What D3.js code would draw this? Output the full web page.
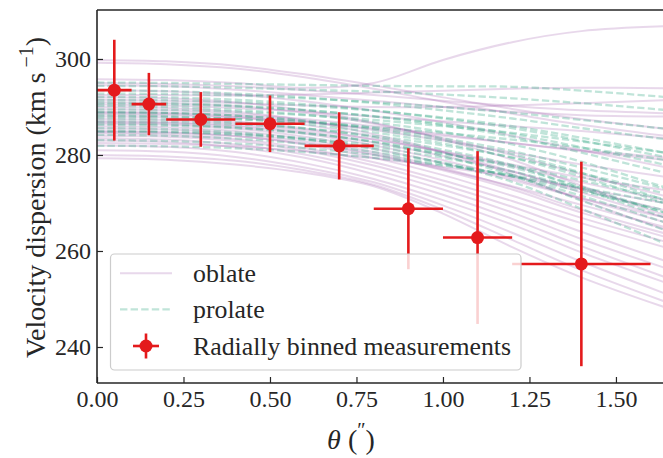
<!DOCTYPE html>
<html>
<head>
<meta charset="utf-8">
<script src="https://cdn.jsdelivr.net/npm/d3@7"></script>
<style>
  html, body { margin: 0; padding: 0; background: #fff; }
  svg { display: block; }
  text { font-family: "Liberation Serif", "DejaVu Serif", serif; fill: #262626; }
</style>
</head>
<body>
<svg id="chart" width="663" height="458"></svg>
<script>
// ---------------- data ----------------
const thetaSamples = [0, 0.2, 0.4, 0.6, 0.8, 1.0, 1.2, 1.4, 1.64];

const oblateModels = [
  [299.8, 299.5, 298.6, 296.8, 294.5, 292.0, 289.6, 287.5, 285.5],
  [299.2, 298.9, 298.0, 296.2, 293.8, 291.1, 288.6, 286.3, 284.0],
  [295.8, 295.6, 295.0, 294.0, 295.0, 299.8, 303.5, 305.8, 306.8],
  [294.5, 294.3, 293.6, 292.5, 291.3, 290.0, 289.0, 288.3, 288.0],
  [292.5, 292.5, 292.4, 292.6, 293.0, 293.4, 293.8, 294.0, 293.9],
  [291.5, 291.3, 290.8, 290.3, 290.0, 290.0, 290.3, 290.8, 291.4],
  [290.5, 290.3, 289.8, 289.0, 288.0, 287.0, 286.0, 285.0, 283.5],
  [289.5, 289.3, 288.6, 287.5, 286.0, 284.3, 282.5, 280.8, 279.0],
  [289.0, 288.8, 288.2, 287.0, 285.2, 283.0, 280.5, 278.0, 275.5],
  [288.0, 287.8, 287.0, 285.5, 283.3, 280.8, 278.0, 275.3, 272.7],
  [287.5, 287.3, 286.6, 285.2, 283.2, 280.6, 277.6, 274.3, 270.6],
  [287.0, 286.8, 286.2, 284.8, 282.6, 279.8, 276.5, 272.8, 268.5],
  [286.5, 286.3, 285.5, 283.8, 281.3, 278.3, 274.8, 271.0, 267.0],
  [286.0, 285.8, 285.0, 283.3, 280.6, 277.3, 273.3, 268.6, 263.7],
  [285.5, 285.3, 284.5, 282.8, 280.2, 276.8, 272.8, 268.0, 263.0],
  [285.0, 284.8, 284.0, 282.2, 279.4, 275.8, 271.5, 266.9, 262.0],
  [284.5, 284.2, 283.3, 281.4, 278.5, 274.7, 270.4, 265.8, 260.8],
  [284.0, 283.8, 282.9, 280.9, 277.8, 273.8, 269.2, 264.0, 258.0],
  [283.5, 283.2, 282.2, 280.1, 276.9, 272.8, 268.0, 262.5, 256.5],
  [283.0, 282.7, 281.6, 279.4, 276.0, 271.7, 266.7, 261.0, 254.6],
  [282.0, 281.7, 280.6, 278.3, 275.0, 270.6, 265.5, 259.7, 253.5],
  [281.0, 280.7, 279.6, 277.4, 274.3, 269.5, 263.8, 257.8, 251.2],
  [280.0, 279.7, 278.8, 276.8, 273.8, 268.6, 262.3, 256.0, 249.5],
  [279.3, 279.0, 278.0, 276.3, 273.5, 267.8, 260.8, 254.5, 248.3],
  [292.0, 291.8, 291.0, 289.3, 286.7, 283.2, 279.0, 273.6, 267.5],
  [290.0, 289.8, 289.0, 287.2, 284.3, 280.6, 276.0, 270.6, 264.5],
  [293.5, 293.3, 292.6, 291.2, 289.2, 286.8, 284.0, 281.0, 277.5],
  [288.5, 288.3, 287.8, 286.8, 285.5, 284.0, 282.5, 281.0, 279.5],
  [282.5, 282.3, 281.8, 280.8, 279.3, 277.5, 275.5, 273.0, 270.0],
  [295.0, 294.8, 294.3, 293.5, 292.5, 291.3, 290.2, 289.3, 288.7],
  [288.8, 288.6, 287.9, 286.3, 283.8, 280.5, 276.6, 272.2, 267.0],
  [286.8, 286.6, 285.9, 284.4, 282.0, 278.9, 275.2, 271.0, 266.0],
  [291.0, 290.8, 290.2, 288.8, 286.5, 283.5, 280.0, 276.0, 271.5],
  [284.8, 284.6, 283.9, 282.4, 280.0, 277.0, 273.5, 269.6, 265.0]
];

const prolateModels = [
  [295.1, 295.0, 294.8, 294.6, 294.4, 294.3, 294.2, 293.4, 292.1],
  [294.4, 294.3, 294.0, 293.6, 293.2, 292.6, 291.8, 290.8, 289.4],
  [293.5, 293.3, 292.8, 292.0, 290.8, 289.3, 287.6, 285.6, 283.3],
  [292.1, 292.0, 291.5, 290.6, 289.3, 287.6, 285.6, 283.0, 279.6],
  [291.0, 290.8, 290.3, 289.4, 288.0, 286.2, 283.8, 280.5, 276.3],
  [290.2, 290.0, 289.4, 288.4, 286.8, 284.8, 282.2, 278.6, 273.3],
  [289.0, 288.8, 288.2, 287.0, 285.3, 283.0, 280.2, 276.3, 270.6],
  [288.3, 288.1, 287.5, 286.4, 284.7, 282.4, 279.4, 275.5, 270.0],
  [287.6, 287.4, 286.8, 285.6, 283.7, 281.1, 277.9, 273.0, 267.0],
  [286.6, 286.4, 285.8, 284.6, 282.7, 279.8, 275.8, 270.5, 264.4],
  [285.6, 285.4, 284.7, 283.3, 281.2, 278.3, 274.4, 268.8, 261.6],
  [284.2, 284.0, 283.4, 282.3, 280.6, 278.4, 275.5, 271.5, 266.0],
  [283.1, 282.9, 282.4, 281.4, 280.0, 278.0, 275.6, 272.4, 268.5],
  [281.9, 281.8, 281.4, 280.6, 279.4, 277.8, 275.8, 273.2, 270.0],
  [289.5, 289.4, 289.0, 288.3, 287.3, 286.0, 284.6, 282.8, 280.5],
  [288.0, 287.9, 287.5, 286.8, 285.8, 284.6, 283.2, 281.5, 279.0],
  [292.8, 292.7, 292.4, 291.8, 291.0, 290.0, 288.8, 287.3, 285.5],
  [287.0, 286.9, 286.4, 285.5, 284.0, 282.0, 279.5, 276.2, 272.0],
  [285.0, 284.9, 284.4, 283.5, 282.1, 280.2, 277.8, 274.7, 270.8],
  [290.6, 290.5, 290.1, 289.3, 288.1, 286.5, 284.4, 281.6, 278.0],
  [288.8, 288.7, 288.2, 287.2, 285.6, 283.5, 280.8, 277.4, 273.0],
  [286.2, 286.1, 285.6, 284.5, 282.8, 280.4, 277.4, 273.4, 268.0],
  [291.5, 291.4, 291.0, 290.3, 289.2, 287.8, 286.0, 283.6, 280.5],
  [284.8, 284.7, 284.2, 283.2, 281.6, 279.4, 276.6, 272.9, 268.0]
];

const binTheta   = [0.05, 0.15, 0.30, 0.50, 0.70, 0.90, 1.10, 1.40];
const binThetaErr= [0.05, 0.05, 0.10, 0.10, 0.10, 0.10, 0.10, 0.20];
const binSigma   = [293.5, 290.6, 287.4, 286.5, 281.9, 268.8, 262.8, 257.3];
const binSigmaErr= [10.5, 6.5, 5.7, 5.9, 7.0, 12.6, 18.0, 21.3];

const xTicks = [0, 0.25, 0.5, 0.75, 1.0, 1.25, 1.5];
const yTicks = [240, 260, 280, 300];
const legendLabels = ["oblate", "prolate", "Radially binned measurements"];

// ---------------- layout ----------------
const svg = d3.select("#chart");
const L = 97, R = 663, T = 10, B = 383;
const x = d3.scaleLinear().domain([0, 1.636]).range([L, R]);
const y = d3.scaleLinear().domain([232.5, 310.2]).range([B, T]);

const oblateColor = "#984ea3";
const prolateColor = "#1b9e77";
const red = "#e41a1c";

svg.append("defs").append("clipPath").attr("id", "clip")
  .append("rect").attr("x", L).attr("y", T).attr("width", R - L + 5).attr("height", B - T);

const plot = svg.append("g").attr("clip-path", "url(#clip)");

const line = d3.line()
  .x((d, i) => x(thetaSamples[i]))
  .y(d => y(d))
  .curve(d3.curveCatmullRom.alpha(0.5));

plot.selectAll("path.oblate").data(oblateModels).enter().append("path")
  .attr("class", "oblate")
  .attr("d", line)
  .attr("fill", "none")
  .attr("stroke", oblateColor)
  .attr("stroke-opacity", 0.22)
  .attr("stroke-width", 2);

plot.selectAll("path.prolate").data(prolateModels).enter().append("path")
  .attr("class", "prolate")
  .attr("d", line)
  .attr("fill", "none")
  .attr("stroke", prolateColor)
  .attr("stroke-opacity", 0.28)
  .attr("stroke-width", 2.3)
  .attr("stroke-dasharray", "7.4,3.2");

// error bars
const eb = plot.selectAll("g.eb").data(binTheta.map((t, i) => i)).enter().append("g");
eb.append("line")
  .attr("x1", i => x(binTheta[i] - binThetaErr[i]))
  .attr("x2", i => x(binTheta[i] + binThetaErr[i]))
  .attr("y1", i => y(binSigma[i])).attr("y2", i => y(binSigma[i]))
  .attr("stroke", red).attr("stroke-width", 2.6);
eb.append("line")
  .attr("x1", i => x(binTheta[i])).attr("x2", i => x(binTheta[i]))
  .attr("y1", i => y(binSigma[i] - binSigmaErr[i]))
  .attr("y2", i => y(binSigma[i] + binSigmaErr[i]))
  .attr("stroke", red).attr("stroke-width", 2.6);
eb.append("circle")
  .attr("cx", i => x(binTheta[i])).attr("cy", i => y(binSigma[i]))
  .attr("r", 6.5).attr("fill", red);

// ---------------- axes ----------------
const xAxis = d3.axisBottom(x).tickValues(xTicks).tickFormat(d3.format(".2f"))
  .tickSizeInner(-6).tickSizeOuter(0).tickPadding(7);
const gx = svg.append("g").attr("transform", `translate(0,${B})`).call(xAxis);
const yAxis = d3.axisLeft(y).tickValues(yTicks).tickFormat(d3.format("d"))
  .tickSizeInner(-6).tickSizeOuter(0).tickPadding(6);
const gy = svg.append("g").attr("transform", `translate(${L},0)`).call(yAxis);
[gx, gy].forEach(g => {
  g.select(".domain").remove();
  g.selectAll(".tick line").attr("stroke", "#262626").attr("stroke-width", 1.2);
  g.selectAll(".tick text").attr("font-size", 24).attr("fill", "#262626")
    .style("font-family", "'Liberation Serif', serif");
});

// spines
const spine = svg.append("g").attr("stroke", "#262626").attr("stroke-width", 1.6);
spine.append("line").attr("x1", L).attr("x2", L).attr("y1", T).attr("y2", B);
spine.append("line").attr("x1", L).attr("x2", 663).attr("y1", B).attr("y2", B);
spine.append("line").attr("x1", L).attr("x2", 663).attr("y1", T).attr("y2", T);

// axis labels
const yl = svg.append("text")
  .attr("transform", `translate(45,${(T + B) / 2 + 1}) rotate(-90)`)
  .attr("text-anchor", "middle").attr("font-size", 28);
yl.append("tspan").text("Velocity dispersion (km s");
yl.append("tspan").attr("dy", -12).attr("font-size", 20).text(" \u22121");
yl.append("tspan").attr("dy", 12).text(")");

const xl = svg.append("text")
  .attr("x", 351).attr("y", 449)
  .attr("text-anchor", "middle").attr("font-size", 28);
xl.append("tspan").attr("font-style", "italic").text("\u03b8");
xl.append("tspan").text(" (");
xl.append("tspan").attr("dy", -12).attr("font-size", 20).text("\u2033");
xl.append("tspan").attr("dy", 12).text(")");

// ---------------- legend ----------------
const lg = svg.append("g");
lg.append("rect").attr("x", 110.5).attr("y", 254).attr("width", 410.5).attr("height", 116)
  .attr("rx", 4).attr("fill", "#fff").attr("fill-opacity", 0.8)
  .attr("stroke", "#cccccc").attr("stroke-width", 1.2);
const rows = [273.3, 309.3, 346];
lg.append("line").attr("x1", 120).attr("x2", 172).attr("y1", rows[0]).attr("y2", rows[0])
  .attr("stroke", oblateColor).attr("stroke-opacity", 0.22).attr("stroke-width", 2);
lg.append("line").attr("x1", 120).attr("x2", 172).attr("y1", rows[1]).attr("y2", rows[1])
  .attr("stroke", prolateColor).attr("stroke-opacity", 0.28).attr("stroke-width", 2.3)
  .attr("stroke-dasharray", "7.4,3.2");
lg.append("line").attr("x1", 133).attr("x2", 159).attr("y1", rows[2]).attr("y2", rows[2])
  .attr("stroke", red).attr("stroke-width", 2.6);
lg.append("line").attr("x1", 146).attr("x2", 146).attr("y1", rows[2] - 12.5).attr("y2", rows[2] + 12.5)
  .attr("stroke", red).attr("stroke-width", 2.6);
lg.append("circle").attr("cx", 146).attr("cy", rows[2]).attr("r", 6.5).attr("fill", red);
lg.selectAll("text.lt").data(legendLabels).enter().append("text")
  .attr("class", "lt")
  .attr("x", 193).attr("y", (d, i) => rows[i] + 9)
  .attr("font-size", 25.8).text(d => d);
</script>
</body>
</html>
